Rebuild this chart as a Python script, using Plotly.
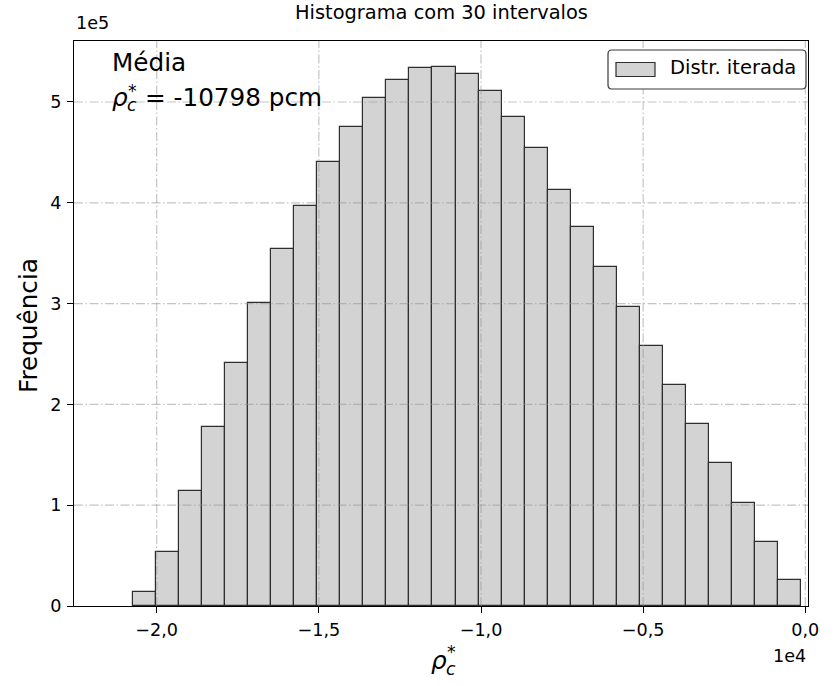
import plotly.graph_objects as go

# ---- data -------------------------------------------------------------
# Histogram of the iterated distribution (30 intervals requested)
bin_start = -20722.0          # left edge of first populated bin
bin_width = 709.7             # width of each bin
counts = [13900, 53900, 114100, 177600, 241400, 300900, 354200, 397000,
          440800, 474900, 503700, 521800, 533400, 535100, 527500, 510900,
          485100, 454700, 412400, 375700, 336000, 296300, 258300, 218900,
          180600, 141500, 101900, 63500, 25800]
mean_value = -10798           # pcm

x_ticks = [-20000, -15000, -10000, -5000, 0]
x_tick_labels = ["\u22122,0", "\u22121,5", "\u22121,0", "\u22120,5", "0,0"]
y_ticks = [0, 100000, 200000, 300000, 400000, 500000]
y_tick_labels = ["0", "1", "2", "3", "4", "5"]

x_range = [-22550, 83]
y_range = [0, 560500]

# ---- geometry helpers (pixel -> paper) --------------------------------
W, H = 837, 686
L, R, T, B = 74, 808, 41, 606
FONT = "DejaVu Sans"


def px(x):
    return (x - L) / (R - L)


def py(y):
    return (B - y) / (B - T)


centers = [bin_start + bin_width * (i + 0.5) for i in range(len(counts))]

fig = go.Figure()
fig.add_trace(go.Bar(
    x=centers, y=counts, width=[bin_width] * len(counts),
    marker=dict(color="#d3d3d3", line=dict(color="#2e2e2e", width=1.2)),
    name="Distr. iterada", showlegend=False,
))

axis_common = dict(
    showgrid=False, zeroline=False, showline=True, linecolor="black",
    linewidth=1.3, mirror=True, ticks="outside", ticklen=6, tickwidth=1.3,
    tickcolor="black", tickfont=dict(family=FONT, size=17.6, color="black"),
    ticklabelstandoff=2,
)

fig.update_layout(
    width=W, height=H,
    margin=dict(l=L, r=W - R, t=T, b=H - B, pad=0),
    paper_bgcolor="white", plot_bgcolor="white",
    xaxis=dict(range=x_range, tickmode="array", tickvals=x_ticks,
               ticktext=x_tick_labels, **axis_common),
    yaxis=dict(range=y_range, tickmode="array", tickvals=y_ticks,
               ticktext=y_tick_labels, **axis_common),
    bargap=0,
)

# dash-dot grid drawn over the bars
grid_line = dict(color="rgba(150,150,150,0.55)", width=1.2,
                 dash="9px,2.5px,1.5px,2.5px")
shapes = []
for t in x_ticks:
    shapes.append(dict(type="line", xref="x", yref="paper", x0=t, x1=t,
                       y0=0, y1=1, line=grid_line, layer="above"))
for t in y_ticks[1:]:
    shapes.append(dict(type="line", xref="paper", yref="y", x0=0, x1=1,
                       y0=t, y1=t, line=grid_line, layer="above"))

# legend box (rounded frame + patch)
lx0, lx1, ly0, ly1, rad = 608, 806, 50, 89, 4
rx, ry = rad / (R - L), rad / (B - T)
X0, X1, Y0, Y1 = px(lx0), px(lx1), py(ly0), py(ly1)
path = (f"M {X0+rx} {Y0} L {X1-rx} {Y0} Q {X1} {Y0} {X1} {Y0-ry} "
        f"L {X1} {Y1+ry} Q {X1} {Y1} {X1-rx} {Y1} L {X0+rx} {Y1} "
        f"Q {X0} {Y1} {X0} {Y1+ry} L {X0} {Y0-ry} Q {X0} {Y0} {X0+rx} {Y0} Z")
shapes.append(dict(type="path", xref="paper", yref="paper", path=path,
                   fillcolor="white", line=dict(color="#3a3a3a", width=1.2),
                   layer="above"))
shapes.append(dict(type="rect", xref="paper", yref="paper",
                   x0=px(616), x1=px(655), y0=py(62.5), y1=py(76.5),
                   fillcolor="#d3d3d3", line=dict(color="#2e2e2e", width=1.2),
                   layer="above"))
fig.update_layout(shapes=shapes)


def text(s, x, baseline, size, xanchor="left", angle=0, yanchor="bottom"):
    """Place a text with its baseline at the given pixel row."""
    y_px = baseline + 0.236 * size + 1
    fig.add_annotation(
        text=s, x=px(x), y=py(y_px), xref="paper", yref="paper",
        xanchor=xanchor, yanchor=yanchor, showarrow=False, textangle=angle,
        font=dict(family=FONT, size=size, color="black"),
    )


# title and axis offset labels
text("Histograma com 30 intervalos", 441, 20, 19.4, xanchor="center")
text("1e5", 74, 30, 17.6)
text("1e4", 808, 663, 17.6, xanchor="right")

# y axis label (rotated)
fig.add_annotation(
    text="Frequência", x=px(28), y=py(326), xref="paper", yref="paper",
    xanchor="center", yanchor="middle", showarrow=False, textangle=-90,
    font=dict(family=FONT, size=24.7, color="black"),
)

# x axis label: rho_c^*
text("<i>ρ</i>", 429, 670, 24.7)
text("<i>c</i>", 444, 676, 17.3)
text("*", 445, 659, 17.3)

# mean annotation
text("Média", 110, 72, 24.7)
text("<i>ρ</i>", 110, 107, 24.7)
text("<i>c</i>", 125, 112, 17.3)
text("*", 126, 98, 17.3)
text(f"= {mean_value} pcm", 143, 107, 24.7)

# legend label
text("Distr. iterada", 668, 75, 19.5)

fig.write_html("out.html")
